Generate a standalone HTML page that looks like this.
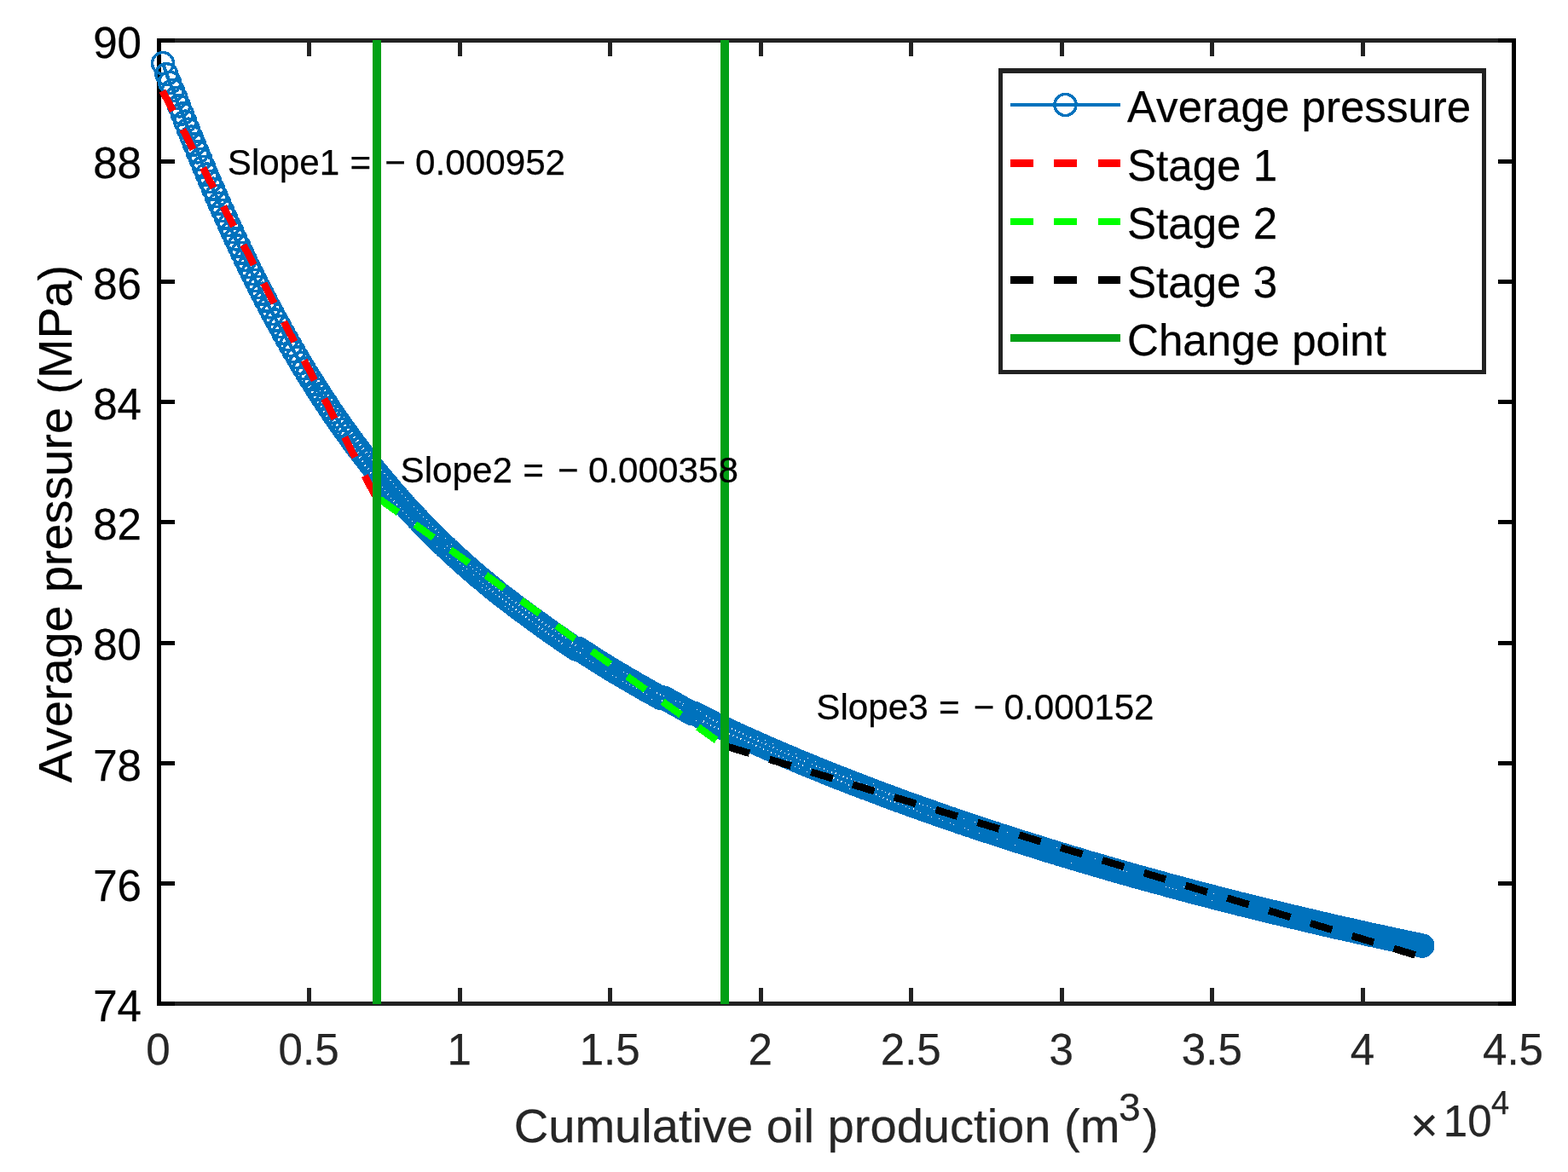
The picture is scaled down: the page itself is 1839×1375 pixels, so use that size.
<!DOCTYPE html>
<html lang="en"><head><meta charset="utf-8"><title>Average pressure vs cumulative oil production</title>
<style>html,body{margin:0;padding:0;background:#fff}body{width:1839px;height:1375px;overflow:hidden}svg{display:block}text{font-family:'Liberation Sans', Arial, Helvetica, sans-serif;font-kerning:none;stroke-width:0.25;stroke-linejoin:round}.k{fill:#000;stroke:#000}.g{fill:#262626;stroke:#262626}</style>
</head><body>
<svg width="1839" height="1375" viewBox="0 0 1839 1375" shape-rendering="crispEdges">
<defs><marker id="mk" markerUnits="userSpaceOnUse" markerWidth="40" markerHeight="40" refX="20" refY="20" viewBox="0 0 40 40" overflow="visible"><circle cx="20" cy="20" r="12.5" fill="none" stroke="#0072bd" stroke-width="3.5" shape-rendering="crispEdges"/></marker></defs>
<rect x="0" y="0" width="1839" height="1375" fill="#ffffff"/>
<rect x="184" y="45" width="1594" height="5" fill="#222222"/>
<rect x="184" y="1175" width="1594" height="5" fill="#222222"/>
<rect x="360" y="1159" width="5" height="16" fill="#222222"/>
<rect x="360" y="50" width="5" height="16" fill="#222222"/>
<rect x="537" y="1159" width="5" height="16" fill="#222222"/>
<rect x="537" y="50" width="5" height="16" fill="#222222"/>
<rect x="713" y="1159" width="5" height="16" fill="#222222"/>
<rect x="713" y="50" width="5" height="16" fill="#222222"/>
<rect x="890" y="1159" width="5" height="16" fill="#222222"/>
<rect x="890" y="50" width="5" height="16" fill="#222222"/>
<rect x="1066" y="1159" width="5" height="16" fill="#222222"/>
<rect x="1066" y="50" width="5" height="16" fill="#222222"/>
<rect x="1243" y="1159" width="5" height="16" fill="#222222"/>
<rect x="1243" y="50" width="5" height="16" fill="#222222"/>
<rect x="1419" y="1159" width="5" height="16" fill="#222222"/>
<rect x="1419" y="50" width="5" height="16" fill="#222222"/>
<rect x="1596" y="1159" width="5" height="16" fill="#222222"/>
<rect x="1596" y="50" width="5" height="16" fill="#222222"/>
<rect x="184" y="45" width="5" height="1135" fill="#000000"/>
<rect x="1773" y="45" width="5" height="1135" fill="#000000"/>
<rect x="184" y="1175" width="21" height="5" fill="#000000"/>
<rect x="1757" y="1175" width="21" height="5" fill="#000000"/>
<rect x="184" y="1034" width="21" height="5" fill="#000000"/>
<rect x="1757" y="1034" width="21" height="5" fill="#000000"/>
<rect x="184" y="893" width="21" height="5" fill="#000000"/>
<rect x="1757" y="893" width="21" height="5" fill="#000000"/>
<rect x="184" y="752" width="21" height="5" fill="#000000"/>
<rect x="1757" y="752" width="21" height="5" fill="#000000"/>
<rect x="184" y="610" width="21" height="5" fill="#000000"/>
<rect x="1757" y="610" width="21" height="5" fill="#000000"/>
<rect x="184" y="469" width="21" height="5" fill="#000000"/>
<rect x="1757" y="469" width="21" height="5" fill="#000000"/>
<rect x="184" y="328" width="21" height="5" fill="#000000"/>
<rect x="1757" y="328" width="21" height="5" fill="#000000"/>
<rect x="184" y="187" width="21" height="5" fill="#000000"/>
<rect x="1757" y="187" width="21" height="5" fill="#000000"/>
<rect x="184" y="45" width="21" height="5" fill="#000000"/>
<rect x="1757" y="45" width="21" height="5" fill="#000000"/>
<polyline points="191.0,74.1 195.4,87.2 199.1,96.9 202.8,106.1 206.5,115.2 210.1,124.4 213.7,133.5 217.3,142.6 220.9,151.7 224.5,160.6 228.1,169.5 231.7,178.4 235.4,187.1 239.0,195.8 242.6,204.5 246.3,213.1 250.0,221.7 253.7,230.2 257.4,238.7 261.2,247.1 264.9,255.5 268.7,263.9 272.5,272.2 276.3,280.4 280.2,288.6 284.0,296.8 287.9,304.9 291.8,313.0 295.8,321.0 299.8,329.0 303.8,336.9 307.8,344.7 311.8,352.5 315.9,360.3 320.0,368.0 324.1,375.6 328.3,383.2 332.4,390.8 336.6,398.2 340.7,405.4 344.8,412.4 348.8,419.3 352.7,425.9 356.6,432.4 360.5,438.7 364.3,444.9 368.1,450.8 371.8,456.7 375.4,462.3 379.0,467.9 382.6,473.3 386.2,478.7 389.7,483.9 393.2,489.1 396.7,494.1 400.1,499.0 403.5,503.8 407.0,508.6 410.4,513.3 413.8,517.9 417.2,522.5 420.6,527.1 424.1,531.6 427.5,536.0 430.9,540.4 434.3,544.8 437.7,549.1 441.1,553.3 444.5,557.5 448.0,561.7 451.4,565.7 454.8,569.8 458.2,573.8 461.7,577.8 465.1,581.8 468.6,585.7 472.1,589.7 475.6,593.6 479.2,597.4 482.7,601.3 486.3,605.1 489.9,608.9 493.5,612.7 497.1,616.4 500.8,620.2 504.4,623.9 508.1,627.5 511.8,631.2 515.5,634.8 519.2,638.4 522.9,641.9 526.6,645.4 530.4,648.9 534.1,652.4 537.9,655.8 541.7,659.2 545.4,662.6 549.2,665.9 553.0,669.2 556.8,672.5 560.6,675.8 564.5,679.0 568.3,682.2 572.1,685.4 576.0,688.6 579.8,691.7 583.7,694.8 587.5,697.9 591.4,700.9 595.3,703.9 599.2,706.9 603.0,709.9 606.9,712.8 610.8,715.7 614.7,718.6 618.6,721.4 622.5,724.3 626.4,727.1 630.3,729.9 634.2,732.7 638.1,735.5 642.0,738.2 645.8,741.0 649.7,743.7 653.6,746.4 657.4,749.1 661.3,751.8 665.2,754.4 669.0,757.1 672.9,759.7 676.0,761.7 678.8,761.2 682.6,763.7 686.5,766.2 690.4,768.7 694.2,771.2 698.1,773.7 701.9,776.1 705.8,778.5 709.7,780.9 713.5,783.3 717.4,785.7 721.2,788.0 725.1,790.3 729.0,792.5 732.9,794.8 736.8,797.1 740.7,799.4 744.7,801.7 748.6,804.0 752.6,806.3 756.5,808.6 760.5,810.8 764.5,813.1 768.6,815.4 772.6,817.6 775.0,818.9 778.7,818.6 782.8,820.8 786.8,823.1 790.9,825.4 794.9,827.7 799.0,830.0 803.1,832.3 807.2,834.6 811.3,836.8 814.2,836.8 818.3,839.0 822.5,841.2 826.7,843.4 831.0,845.6 835.2,847.7 839.5,849.9 843.8,852.0 848.1,854.1 852.5,856.1 856.8,858.1 861.2,860.1 865.6,862.2 870.0,864.2 874.4,866.2 878.9,868.2 883.3,870.2 887.8,872.2 892.3,874.2 896.8,876.1 901.3,878.1 905.8,880.1 910.3,882.0 914.9,884.0 919.4,885.9 924.0,887.9 928.6,889.8 933.2,891.8 937.8,893.7 942.4,895.6 947.0,897.5 951.6,899.4 956.2,901.3 960.7,903.1 965.3,905.0 969.9,906.8 974.4,908.6 979.0,910.4 983.5,912.2 988.0,914.0 992.5,915.8 997.1,917.5 1001.6,919.3 1006.1,921.0 1010.6,922.7 1015.0,924.4 1019.5,926.1 1024.0,927.8 1028.4,929.5 1032.9,931.2 1037.3,932.8 1041.8,934.5 1046.2,936.1 1050.6,937.7 1055.0,939.4 1059.4,941.0 1063.8,942.6 1068.2,944.1 1072.6,945.7 1077.0,947.3 1081.3,948.8 1085.7,950.4 1090.0,951.9 1094.4,953.4 1098.7,955.0 1103.0,956.5 1107.3,958.0 1111.6,959.5 1115.9,960.9 1120.2,962.4 1124.5,963.9 1128.8,965.3 1133.1,966.8 1137.3,968.2 1141.6,969.6 1145.8,971.0 1150.1,972.5 1154.3,973.9 1158.5,975.3 1162.8,976.6 1167.0,978.0 1171.2,979.4 1175.4,980.8 1179.6,982.1 1183.8,983.5 1188.0,984.8 1192.2,986.2 1196.3,987.5 1200.5,988.8 1204.7,990.1 1208.8,991.4 1213.0,992.7 1217.1,994.0 1221.3,995.3 1225.4,996.6 1229.6,997.9 1233.7,999.1 1237.8,1000.4 1241.9,1001.7 1246.0,1002.9 1250.1,1004.2 1254.2,1005.4 1258.3,1006.6 1262.4,1007.8 1266.5,1009.1 1270.5,1010.3 1274.6,1011.5 1278.7,1012.7 1282.7,1013.9 1286.8,1015.0 1290.8,1016.2 1294.8,1017.4 1298.9,1018.6 1302.9,1019.7 1306.9,1020.9 1310.9,1022.0 1314.9,1023.2 1318.9,1024.3 1322.9,1025.4 1326.9,1026.6 1330.9,1027.7 1334.9,1028.8 1338.8,1029.9 1342.8,1031.0 1346.8,1032.1 1350.7,1033.2 1354.6,1034.3 1358.6,1035.4 1362.5,1036.4 1366.4,1037.5 1370.4,1038.6 1374.3,1039.6 1378.2,1040.7 1382.1,1041.7 1386.0,1042.8 1389.9,1043.8 1393.8,1044.8 1397.6,1045.9 1401.5,1046.9 1405.4,1047.9 1409.2,1048.9 1413.1,1049.9 1416.9,1050.9 1420.7,1051.9 1424.5,1052.9 1428.3,1053.9 1432.1,1054.9 1435.9,1055.8 1439.6,1056.8 1443.4,1057.7 1447.1,1058.7 1450.8,1059.6 1454.5,1060.6 1458.2,1061.5 1461.9,1062.4 1465.6,1063.3 1469.3,1064.2 1472.9,1065.2 1476.6,1066.1 1480.2,1066.9 1483.9,1067.8 1487.5,1068.7 1491.1,1069.6 1494.7,1070.5 1498.2,1071.3 1501.8,1072.2 1505.4,1073.1 1508.9,1073.9 1512.5,1074.8 1516.0,1075.6 1519.5,1076.4 1523.0,1077.3 1526.5,1078.1 1530.0,1078.9 1533.5,1079.7 1536.9,1080.5 1540.4,1081.4 1543.8,1082.2 1547.2,1083.0 1550.7,1083.7 1554.1,1084.5 1557.5,1085.3 1560.9,1086.1 1564.2,1086.9 1567.6,1087.6 1571.0,1088.4 1574.3,1089.2 1577.7,1089.9 1581.0,1090.7 1584.4,1091.4 1587.7,1092.2 1591.0,1092.9 1594.4,1093.7 1597.7,1094.4 1601.0,1095.1 1604.2,1095.8 1607.5,1096.6 1610.8,1097.3 1614.1,1098.0 1617.3,1098.7 1620.6,1099.4 1623.8,1100.1 1627.1,1100.8 1630.3,1101.5 1633.5,1102.2 1636.7,1102.9 1639.9,1103.6 1643.1,1104.3 1646.3,1105.0 1649.5,1105.6 1652.7,1106.3 1655.9,1107.0 1659.0,1107.6 1662.2,1108.3 1665.3,1109.0 1668.2,1109.6" fill="none" stroke="#0072bd" stroke-width="4.2" stroke-linejoin="round" marker-start="url(#mk)" marker-mid="url(#mk)" marker-end="url(#mk)"/>
<line x1="190.6" y1="106.6" x2="442" y2="585.3" stroke="#ff0000" stroke-width="8.5" stroke-dasharray="26.5 24.5" stroke-dashoffset="0"/>
<line x1="445.4" y1="585.7" x2="850" y2="875.4" stroke="#00ff00" stroke-width="8.5" stroke-dasharray="26.5 24.5" stroke-dashoffset="0"/>
<line x1="853.6" y1="876.1" x2="1668" y2="1122.9" stroke="#000000" stroke-width="8.5" stroke-dasharray="26.5 24.5" stroke-dashoffset="0"/>
<rect x="437" y="47" width="10" height="1131" fill="#02a015"/>
<rect x="845" y="47" width="10" height="1131" fill="#02a015"/>
<text x="185.50" y="1248.8" font-size="51.1" text-anchor="middle" class="g">0</text>
<text x="362.06" y="1248.8" font-size="51.1" text-anchor="middle" class="g">0.5</text>
<text x="538.61" y="1248.8" font-size="51.1" text-anchor="middle" class="g">1</text>
<text x="715.17" y="1248.8" font-size="51.1" text-anchor="middle" class="g">1.5</text>
<text x="891.72" y="1248.8" font-size="51.1" text-anchor="middle" class="g">2</text>
<text x="1068.28" y="1248.8" font-size="51.1" text-anchor="middle" class="g">2.5</text>
<text x="1244.83" y="1248.8" font-size="51.1" text-anchor="middle" class="g">3</text>
<text x="1421.39" y="1248.8" font-size="51.1" text-anchor="middle" class="g">3.5</text>
<text x="1597.94" y="1248.8" font-size="51.1" text-anchor="middle" class="g">4</text>
<text x="1774.50" y="1248.8" font-size="51.1" text-anchor="middle" class="g">4.5</text>
<text x="166" y="1198.00" font-size="51.1" text-anchor="end" class="k">74</text>
<text x="166" y="1056.75" font-size="51.1" text-anchor="end" class="k">76</text>
<text x="166" y="915.50" font-size="51.1" text-anchor="end" class="k">78</text>
<text x="166" y="774.25" font-size="51.1" text-anchor="end" class="k">80</text>
<text x="166" y="633.00" font-size="51.1" text-anchor="end" class="k">82</text>
<text x="166" y="491.75" font-size="51.1" text-anchor="end" class="k">84</text>
<text x="166" y="350.50" font-size="51.1" text-anchor="end" class="k">86</text>
<text x="166" y="209.25" font-size="51.1" text-anchor="end" class="k">88</text>
<text x="166" y="68.00" font-size="51.1" text-anchor="end" class="k">90</text>
<text x="1654.0" y="1339" font-size="56" class="g">×</text>
<text y="1332.6" font-size="51.1" class="g"><tspan x="1692.8">10</tspan><tspan x="1749" dy="-25.8" font-size="38">4</tspan></text>
<text x="602.7" y="1339.5" font-size="56.1" class="g">Cumulative oil production (m<tspan dx="-1.5" dy="-24.2" font-size="46">3</tspan><tspan dx="2.5" dy="24.2">)</tspan></text>
<text transform="translate(84.1 614.5) rotate(-90)" font-size="55.75" text-anchor="middle" class="k">Average pressure (MPa)</text>
<text y="204.5" font-size="42.2" class="k"><tspan x="266.8">Slope1 </tspan><tspan x="410.4">= </tspan><tspan x="451.2">− </tspan><tspan x="487.1">0.000952</tspan></text>
<text y="566.1" font-size="42.2" class="k"><tspan x="469.6">Slope2 </tspan><tspan x="613.2">= </tspan><tspan x="654.0">− </tspan><tspan x="689.9">0.000358</tspan></text>
<text y="844.2" font-size="42.2" class="k"><tspan x="957.3">Slope3 </tspan><tspan x="1100.9">= </tspan><tspan x="1141.7">− </tspan><tspan x="1177.6">0.000152</tspan></text>
<rect x="1171" y="80" width="572" height="359" fill="#222222"/>
<rect x="1176" y="86" width="562" height="348" fill="#ffffff"/>
<line x1="1185" y1="123" x2="1314" y2="123" stroke="#0072bd" stroke-width="4.2"/>
<circle cx="1249.5" cy="123" r="12.5" fill="none" stroke="#0072bd" stroke-width="3.5"/>
<line x1="1185" y1="191.3" x2="1314" y2="191.3" stroke="#ff0000" stroke-width="8.5" stroke-dasharray="27 24.4"/>
<line x1="1185" y1="260" x2="1314" y2="260" stroke="#00ff00" stroke-width="8.5" stroke-dasharray="27 24.4"/>
<line x1="1185" y1="328.3" x2="1314" y2="328.3" stroke="#000000" stroke-width="8.5" stroke-dasharray="27 24.4"/>
<line x1="1185" y1="396.4" x2="1314" y2="396.4" stroke="#02a015" stroke-width="9"/>
<text x="1322" y="143.3" font-size="51.1" class="k">Average pressure</text>
<text x="1322" y="211.6" font-size="51.1" class="k">Stage 1</text>
<text x="1322" y="280.3" font-size="51.1" class="k">Stage 2</text>
<text x="1322" y="348.6" font-size="51.1" class="k">Stage 3</text>
<text x="1322" y="416.7" font-size="51.1" class="k">Change point</text>
</svg>
</body></html>
